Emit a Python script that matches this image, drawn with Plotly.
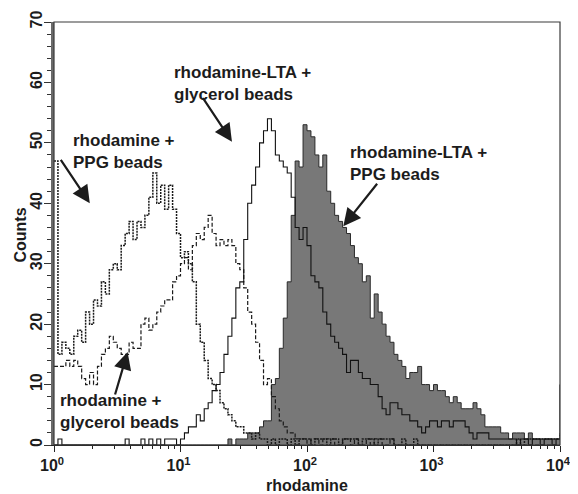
import plotly.graph_objects as go

# ---- data: flow-cytometry histograms, 32 channels per decade (channel 0 = 10^0, 128 = 10^4)
CHANNELS_PER_DECADE = 32
channels = list(range(129))

rhod_ppg = [
    47, 15, 17, 16, 15, 18, 19, 17, 22, 20,
    24, 23, 27, 25, 29, 30, 29, 33, 35, 37,
    34, 37, 36, 38, 41, 45, 40, 43, 39, 43,
    39, 35, 31, 32, 30, 27, 20, 17, 14, 11,
    10, 9, 7, 6, 5, 4, 3, 3, 2, 2,
    1, 2, 1, 1, 0, 1, 0, 1, 1, 0,
    1, 0, 1, 1, 1, 0, 1, 1, 1, 0,
    1, 1, 0, 1, 1, 1, 1, 0, 1, 1,
    1, 0, 1, 1, 1, 1, 0, 0, 1, 0,
    0, 1, 0, 0, 0, 0, 0, 0, 0, 0,
    0, 0, 0, 0, 0, 0, 0, 0, 0, 0,
    0, 0, 0, 0, 0, 0, 0, 1, 0, 1,
    1, 1, 1, 1, 1, 1, 1, 1, 2,
]

rhod_glycerol = [
    13, 13, 13, 14, 13, 14, 13, 11, 10, 12,
    10, 13, 15, 16, 18, 17, 16, 15, 15, 17,
    16, 16, 20, 21, 19, 20, 22, 23, 24, 24,
    27, 28, 30, 31, 29, 33, 35, 34, 36, 38,
    35, 33, 34, 33, 34, 33, 30, 29, 26, 22,
    20, 17, 14, 10, 11, 8, 6, 4, 3, 2,
    2, 1, 1, 1, 0, 1, 1, 0, 1, 1,
    1, 0, 0, 1, 1, 0, 1, 0, 0, 1,
    0, 1, 1, 0, 0, 1, 0, 0, 0, 0,
    0, 0, 0, 0, 0, 0, 0, 0, 0, 0,
    0, 0, 0, 0, 0, 0, 0, 0, 0, 0,
    0, 0, 0, 0, 0, 0, 0, 0, 0, 0,
    0, 0, 0, 0, 0, 0, 0, 0, 0,
]

lta_glycerol = [
    0, 1, 0, 0, 0, 0, 0, 0, 0, 0,
    0, 0, 0, 0, 0, 0, 0, 0, 1, 0,
    0, 0, 1, 0, 1, 0, 1, 0, 1, 1,
    1, 0, 1, 2, 3, 3, 5, 4, 6, 7,
    9, 10, 12, 15, 18, 21, 26, 27, 34, 40,
    43, 46, 50, 52, 54, 52, 48, 47, 46, 45,
    41, 36, 34, 36, 33, 28, 27, 26, 22, 20,
    18, 17, 16, 15, 12, 14, 14, 12, 11, 11,
    10, 10, 8, 6, 5, 7, 7, 6, 5, 5,
    4, 4, 3, 2, 3, 4, 4, 3, 4, 4,
    3, 4, 4, 4, 3, 2, 1, 2, 2, 2,
    1, 1, 1, 1, 1, 1, 1, 0, 1, 1,
    0, 1, 1, 0, 1, 1, 0, 1, 10,
]

lta_ppg = [
    0, 0, 0, 0, 0, 0, 0, 0, 0, 0,
    0, 0, 0, 0, 0, 0, 0, 0, 0, 0,
    0, 0, 0, 0, 0, 0, 0, 0, 0, 0,
    0, 0, 0, 0, 0, 0, 0, 0, 0, 0,
    0, 0, 0, 0, 1, 0, 1, 1, 1, 2,
    2, 2, 3, 4, 4, 10, 11, 16, 21, 27,
    38, 47, 46, 53, 52, 51, 48, 46, 48, 42,
    40, 38, 37, 36, 35, 33, 31, 30, 27, 28,
    21, 25, 22, 20, 18, 17, 15, 14, 13, 11,
    12, 12, 13, 10, 10, 9, 10, 9, 9, 8,
    7, 8, 7, 6, 6, 6, 7, 6, 5, 3,
    3, 3, 3, 2, 2, 1, 2, 2, 2, 1,
    2, 1, 1, 1, 1, 1, 1, 1, 1,
]

x_ticks = [1, 10, 100, 1000, 10000]
x_tick_labels = ["10<sup>0</sup>", "10<sup>1</sup>", "10<sup>2</sup>", "10<sup>3</sup>", "10<sup>4</sup>"]

x = [10 ** (c / CHANNELS_PER_DECADE) for c in channels]

FONT = "Liberation Sans, Arial, Helvetica, sans-serif"
INK = "#1c1c1c"

fig = go.Figure()
fig.add_trace(go.Scatter(
    x=x, y=lta_ppg, mode="lines", line=dict(shape="hv", color="#2a2a2a", width=1),
    fill="tozeroy", fillcolor="#787878", name="rhodamine-LTA + PPG beads"))
fig.add_trace(go.Scatter(
    x=x, y=rhod_ppg, mode="lines",
    line=dict(shape="hv", color="#1a1a1a", width=1.5, dash="2px,1px"),
    name="rhodamine + PPG beads"))
fig.add_trace(go.Scatter(
    x=x, y=rhod_glycerol, mode="lines",
    line=dict(shape="hv", color="#1a1a1a", width=1.2, dash="4px,2px"),
    name="rhodamine + glycerol beads"))
fig.add_trace(go.Scatter(
    x=x, y=lta_glycerol, mode="lines",
    line=dict(shape="hv", color="#111111", width=1.1),
    name="rhodamine-LTA + glycerol beads"))

label_font = dict(family=FONT, size=17, color=INK, weight="bold")
title_font = dict(family=FONT, size=16, color=INK, weight="bold")

texts = [
    (0.134, 48.6, "rhodamine +<br>PPG beads"),
    (0.935, 59.85, "rhodamine-LTA +<br>glycerol beads"),
    (2.326, 46.6, "rhodamine-LTA +<br>PPG beads"),
    (0.031, 5.5, "rhodamine +<br>glycerol beads"),
]
for tx, ty, t in texts:
    fig.add_annotation(x=tx, y=ty, text=t, showarrow=False, xanchor="left",
                       yanchor="middle", align="left", font=label_font)

arrows = [
    (0.283, 40.0, -30, -45),
    (1.407, 50.2, -30, -45),
    (2.287, 36.2, 35, -44),
    (0.582, 15.4, -13, 44),
]
for axx, ayy, dx, dy in arrows:
    fig.add_annotation(x=axx, y=ayy, ax=dx, ay=dy, text="", showarrow=True,
                       arrowhead=2, arrowsize=1.6, arrowwidth=2.2, arrowcolor=INK,
                       standoff=0, startstandoff=0)

# axis titles
fig.add_annotation(xref="paper", yref="paper", x=0.5, y=0, yshift=-40,
                   text="rhodamine", showarrow=False, xanchor="center",
                   yanchor="middle", font=title_font)
fig.add_annotation(xref="paper", yref="paper", x=0, y=0.5, xshift=-34, yshift=-2,
                   text="Counts", showarrow=False, textangle=-90, xanchor="center",
                   yanchor="middle", font=title_font)

fig.add_shape(type="rect", xref="paper", yref="paper", x0=0, y0=0, x1=1, y1=1,
              line=dict(color="#3a3a3a", width=1.2), layer="above")

# page body has an 8px default margin: size the figure so the plot area lands where the reference has it
fig.update_layout(
    width=570, height=486,
    margin=dict(l=46, r=18, t=14, b=49),
    paper_bgcolor="white", plot_bgcolor="white",
    showlegend=False,
    font=dict(family=FONT, color=INK),
)
fig.update_xaxes(
    type="log", range=[0, 4], automargin=False,
    tickmode="array", tickvals=x_ticks, ticktext=x_tick_labels,
    ticks="outside", ticklen=6, tickwidth=1.2, tickcolor="#222",
    minor=dict(ticks="outside", ticklen=3, tickwidth=1, tickcolor="#222", dtick="D1", showgrid=False),
    tickfont=dict(family=FONT, size=16, color=INK, weight="bold"),
    ticklabeloverflow="allow",
    showline=True, linecolor="#222", linewidth=1.3,
    showgrid=False, zeroline=False,
)
try:
    fig.update_xaxes(ticklabelshift=-2)
except Exception:
    pass
fig.update_yaxes(
    range=[0, 70], dtick=10, tick0=0, tickangle=-90, automargin=False,
    ticks="outside", ticklen=7, tickwidth=1.2, tickcolor="#333",
    minor=dict(ticks="outside", ticklen=4, tickwidth=1, tickcolor="#333", dtick=2, showgrid=False),
    tickfont=dict(family=FONT, size=16, color=INK, weight="bold"),
    showline=True, linecolor="#6a6a6a", linewidth=3,
    showgrid=False, zeroline=False,
)
try:
    fig.update_yaxes(ticklabelstandoff=-4)
except Exception:
    pass

fig.write_html("out.html")
